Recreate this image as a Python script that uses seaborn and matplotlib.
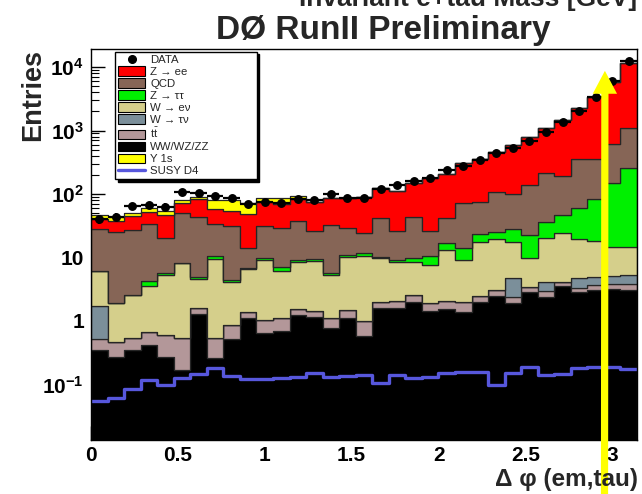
import numpy as np
import pandas as pd
import matplotlib
matplotlib.use("Agg")
import matplotlib.pyplot as plt
from matplotlib.patches import Patch
from matplotlib.lines import Line2D
from matplotlib.ticker import FixedLocator, FixedFormatter, LogLocator, NullFormatter
import seaborn as sns

# ---- binning: 33 bins in delta-phi between the em object and the tau ----
N_BINS = 33
edges = np.linspace(0.0, np.pi, N_BINS + 1)
centers = 0.5 * (edges[:-1] + edges[1:])
bin_edges = [float(e) for e in edges]

# ---- expected events per bin for each process ----
ww_wz_zz = [0.35, 0.27, 0.35, 0.42, 0.27, 0.17, 1.28, 0.26, 0.53, 1.13, 0.64,
            0.70, 1.24, 1.17, 0.77, 1.13, 0.57, 1.59, 1.62, 2.01, 1.44, 1.55,
            1.40, 2.01, 2.50, 1.90, 2.89, 2.41, 3.60, 2.83, 3.08, 3.16, 3.08]
ttbar = [0.17, 0.20, 0.19, 0.26, 0.33, 0.37, 0.31, 0.28, 0.35, 0.27, 0.40,
         0.40, 0.31, 0.28, 0.36, 0.36, 0.43, 0.43, 0.47, 0.56, 0.46, 0.52,
         0.61, 0.49, 0.58, 0.51, 0.58, 0.56, 0.47, 0.51, 0.61, 0.62, 0.70]
w_taunu = [1.22, 0, 0, 0, 0, 0, 0, 0, 0, 0, 0,
           0, 0, 0, 0, 0, 0, 0, 0, 0, 0, 0,
           0, 0, 0, 2.29, 0, 1.19, 0, 1.36, 1.30, 1.34, 1.52]
w_enu = [4.45, 1.47, 2.04, 2.92, 4.70, 7.57, 2.96, 8.9, 3.18, 5.19, 8.1,
         5.03, 7.05, 7.36, 4.17, 8.8, 9.56, 7.7, 6.3, 6.0, 5.72, 11.0,
         7.13, 15.2, 16.3, 13.0, 6.24, 16.3, 19.9, 14.9, 13.2, 9.7, 9.2]
z_tautau = [0, 0, 0, 0.66, 0.34, 0, 0.45, 0.96, 0.31, 0.31, 0.79,
            1.03, 0.55, 0.56, 0.34, 0.60, 1.08, 0.60, 0.74, 1.34, 2.94, 3.6,
            4.82, 5.7, 5.6, 10.1, 12.9, 16.1, 22.7, 41.3, 65.2, 132.7, 242]
qcd = [21.6, 23.6, 24.5, 29.0, 14.5, 41.6, 38.9, 23.0, 26.9, 7.2, 21.4,
       21.9, 28.9, 16.7, 26.9, 17.9, 13.0, 31.1, 17.3, 34.0, 15.8, 24.7,
       57.4, 52.2, 83.8, 72.2, 116, 180, 145, 295, 272, 472, 838]
z_ee = [12.6, 12.1, 18.4, 19.3, 26.6, 21.7, 38.6, 24.4, 22.1, 34.3, 43.5,
        40.5, 45.4, 49.5, 53.0, 58.6, 66.0, 81.6, 86.3, 103.6, 150.3, 162.6,
        232.6, 280.2, 355, 491, 643, 867, 1271, 1881, 3051, 5248, 10465]
upsilon_1s = [6.3, 6.3, 4.2, 6.9, 7.9, 9.1, 8.1, 21.5, 27.1, 23.7, 11.7,
              15.4, 10.6, 0, 0, 0, 0, 0, 0, 0, 0, 0,
              0, 0, 0, 0, 0, 0, 0, 0, 0, 0, 0]

# signal expectation (drawn as a line, not stacked)
susy_d4 = [0.055, 0.061, 0.085, 0.118, 0.098, 0.125, 0.145, 0.180, 0.136,
           0.121, 0.121, 0.125, 0.130, 0.150, 0.130, 0.138, 0.141, 0.105,
           0.141, 0.125, 0.133, 0.150, 0.159, 0.159, 0.098, 0.152, 0.191,
           0.140, 0.145, 0.184, 0.191, 0.190, 0.175]

# observed events
data = [40, 44, 65, 66, 63, 109, 103, 94, 87, 70, 75, 72, 83, 81, 100, 86,
        87, 120, 139, 160, 177, 239, 279, 343, 438, 525, 684, 937, 1376,
        2028, 3407, 6085, 12570]

# legend labels and colours, listed from the top of the stack downwards
labels = ["Υ 1s", "Z → ee", "QCD", "Z → ττ", "W → eν", "W → τν",
          r"$\mathrm{t\bar{t}}$", "WW/WZ/ZZ"]
series = [upsilon_1s, z_ee, qcd, z_tautau, w_enu, w_taunu, ttbar, ww_wz_zz]
colors = ["#ffff00", "#ff0000", "#866556", "#00f000", "#d5cf8b", "#7b8f9a",
          "#b39799", "#000000"]

ARROW_DPHI = 2.957      # position of the cut arrow
ARROW_TIP = 8700.0

sns.set_theme(style="ticks")
plt.rcParams["font.family"] = ["Liberation Sans", "DejaVu Sans"]
plt.rcParams["mathtext.fontset"] = "custom"
plt.rcParams["mathtext.rm"] = "Liberation Sans"
plt.rcParams["mathtext.bf"] = "Liberation Sans:bold"
plt.rcParams["mathtext.it"] = "Liberation Sans:italic"

fig = plt.figure(figsize=(6.42, 4.94), dpi=100)
fig.patch.set_facecolor("white")
ax = fig.add_axes([0.1417, 0.1093, 0.8505, 0.7909])
ax.set_yscale("log")

# stacked background histogram
frames = [pd.DataFrame({"dphi": centers, "w": np.asarray(vals, float), "process": lab})
          for lab, vals in zip(labels, series)]
df = pd.concat(frames, ignore_index=True)
sns.histplot(data=df, x="dphi", weights="w", hue="process", hue_order=labels,
             palette=dict(zip(labels, colors)), multiple="stack", bins=bin_edges,
             element="step", fill=True, alpha=1.0, edgecolor="#262626",
             linewidth=0.9, legend=False, ax=ax)

# signal line
sig_df = pd.DataFrame({"dphi": centers, "w": np.asarray(susy_d4, float)})
sns.histplot(data=sig_df, x="dphi", weights="w", bins=bin_edges, element="step",
             fill=False, color="#5757dc", linewidth=2.4, ax=ax)

# data points with horizontal bin-width bars
data_arr = np.array(data, dtype=float)
half_w = 0.5 * (edges[1] - edges[0])
ax.errorbar(centers, data_arr, xerr=half_w, yerr=np.sqrt(data_arr), fmt="o",
            color="black", ms=5.4, elinewidth=1.6, capsize=0, zorder=5)

ax.set_xlim(0, np.pi)
ax.set_ylim(0.01336, 19000)
ax.set_xlabel("")
ax.set_ylabel("")

# axis styling
for sp in ax.spines.values():
    sp.set_visible(True)
    sp.set_color("black")
    sp.set_linewidth(1.0)
xt = [0, 0.5, 1, 1.5, 2, 2.5, 3]
ax.xaxis.set_major_locator(FixedLocator(xt))
ax.xaxis.set_major_formatter(FixedFormatter(["0", "0.5", "1", "1.5", "2", "2.5", "3"]))
yt = [0.1, 1, 10, 100, 1000, 10000]
ax.yaxis.set_major_locator(FixedLocator(yt))
ax.yaxis.set_major_formatter(FixedFormatter(
    [r"$\mathbf{10^{-1}}$", "1", "10", r"$\mathbf{10^{2}}$",
     r"$\mathbf{10^{3}}$", r"$\mathbf{10^{4}}$"]))
ax.yaxis.set_minor_locator(LogLocator(base=10, subs=np.arange(2, 10), numticks=20))
ax.yaxis.set_minor_formatter(NullFormatter())
ax.tick_params(axis="both", which="both", direction="in", colors="black",
               labelsize=15, top=False, right=False)
ax.tick_params(axis="both", which="major", length=10, width=1, pad=5)
ax.tick_params(axis="x", which="major", pad=4)
ax.tick_params(axis="both", which="minor", length=6, width=0.8)
for lab in ax.get_xticklabels() + ax.get_yticklabels():
    lab.set_fontweight("bold")

# legend
handles = [Line2D([], [], marker="o", color="black", ls="none", ms=5.5)]
handles += [Patch(facecolor=c, edgecolor="black", lw=0.8) for c in colors]
handles += [Line2D([], [], color="#5757dc", lw=2.4)]
leg_labels = ["DATA"] + labels + ["SUSY D4"]
order = [0, 2, 3, 4, 5, 6, 7, 8, 1, 9]
leg = ax.legend([handles[i] for i in order], [leg_labels[i] for i in order],
                loc="upper left", bbox_to_anchor=(0.044, 0.50, 0.2595, 0.4939),
                mode="expand", fontsize=8.2, frameon=True, fancybox=False,
                shadow={"color": "black", "alpha": 1.0}, edgecolor="black",
                framealpha=1.0, borderaxespad=0, borderpad=0.25,
                handlelength=2.4, handleheight=0.95, handletextpad=0.45,
                labelspacing=0.1)
leg.get_frame().set_linewidth(1.0)

# cut arrow
ax.annotate("", xy=(ARROW_DPHI, ARROW_TIP), xycoords="data",
            xytext=(604.5, 0), textcoords="figure pixels",
            arrowprops=dict(facecolor="#ffff00", edgecolor="none", width=5.2,
                            headwidth=17.5, headlength=16.5, shrink=0),
            annotation_clip=False, zorder=10)

# titles and axis captions
fig.text(468 / 642, 1 - 6 / 494, "Invariant e+tau Mass [GeV]", ha="center",
         va="baseline", fontsize=19, fontweight="bold")
fig.text(383 / 642, 1 - 30 / 494, "DØ RunII Preliminary", ha="center",
         va="center", fontsize=24, fontweight="bold")
fig.text(638 / 642, 1 - 479 / 494, "Δ φ (em,tau)", ha="right", va="center",
         fontsize=17.5, fontweight="bold")
fig.text(33 / 642, 1 - 95 / 494, "Entries", ha="center", va="center",
         rotation=90, fontsize=19.5, fontweight="bold")

fig.savefig("out.png", dpi=100)
